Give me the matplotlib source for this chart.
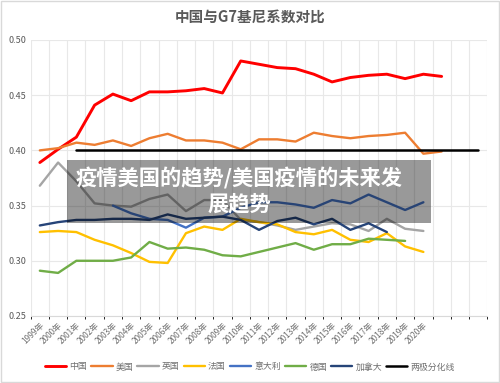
import numpy as np
import matplotlib
matplotlib.use("Agg")
import matplotlib.pyplot as plt
from matplotlib.patches import Rectangle

plt.rcParams['font.family'] = ['Noto Sans CJK SC', 'DejaVu Sans']

nan = np.nan
years = [f"{y}年" for y in range(1999, 2021)]
n_cats = 25  # axis keeps 3 empty categories after 2020

china = [0.389, 0.401, 0.412, 0.441, 0.451, 0.445, 0.453, 0.453, 0.454, 0.456,
         0.452, 0.481, 0.478, 0.475, 0.474, 0.469, 0.462, 0.466, 0.468, 0.469,
         0.465, 0.469, 0.467]
usa = [0.400, 0.402, 0.407, 0.405, 0.409, 0.404, 0.411, 0.415, 0.409, 0.409,
       0.407, 0.401, 0.410, 0.410, 0.408, 0.416, 0.413, 0.411, 0.413, 0.414,
       0.416, 0.397, 0.399]
uk = [0.368, 0.389, 0.372, 0.352, 0.350, 0.349, 0.356, 0.360, 0.345, 0.355,
      0.355, 0.337, 0.335, 0.332, 0.328, 0.331, 0.334, 0.333, 0.327, 0.338,
      0.329, 0.327]
france = [0.326, 0.327, 0.326, 0.319, 0.314, 0.307, 0.299, 0.298, 0.325, 0.331,
          0.328, 0.338, 0.335, 0.333, 0.326, 0.324, 0.328, 0.319, 0.317, 0.325,
          0.313, 0.308]
italy = [nan, nan, nan, nan, 0.350, 0.343, 0.338, 0.337, 0.330, 0.339,
         0.340, 0.348, 0.353, 0.353, 0.351, 0.348, 0.355, 0.352, 0.360, 0.353,
         0.346, 0.353]
germany = [0.291, 0.289, 0.300, 0.300, 0.300, 0.303, 0.317, 0.311, 0.312, 0.310,
           0.305, 0.304, 0.308, 0.312, 0.316, 0.310, 0.315, 0.315, 0.320, 0.319,
           0.318]
canada = [0.332, 0.335, 0.337, 0.337, 0.338, 0.338, 0.337, 0.342, 0.338, 0.339,
          0.340, 0.337, 0.328, 0.336, 0.339, 0.333, 0.338, 0.328, 0.334, 0.326]
polar_line = [nan, nan] + [0.40] * 23

series = [
    ("中国", china, "#FF0000", 2.1),
    ("美国", usa, "#ED7D31", 1.7),
    ("英国", uk, "#A5A5A5", 1.7),
    ("法国", france, "#FFC000", 1.7),
    ("意大利", italy, "#4472C4", 1.7),
    ("德国", germany, "#70AD47", 1.7),
    ("加拿大", canada, "#264478", 1.7),
    ("两极分化线", polar_line, "#000000", 1.8),
]

fig = plt.figure(figsize=(5.0, 3.83), dpi=100)
ax = fig.add_axes([0.0614, 0.175, 0.9132, 0.7206])

for name, vals, color, lw in series:
    ax.plot(np.arange(len(vals)), vals, color=color, lw=lw, label=name,
            solid_capstyle="round", solid_joinstyle="round")

ax.set_xlim(-0.5, n_cats - 0.5)
ax.set_ylim(0.25, 0.50)
ax.set_yticks([0.25, 0.30, 0.35, 0.40, 0.45, 0.50])
ax.set_yticklabels([f"{v:.2f}" for v in [0.25, 0.30, 0.35, 0.40, 0.45, 0.50]],
                   fontsize=6.5, color="#595959")
ax.set_xticks(np.arange(n_cats))
ax.set_xticklabels(years + [""] * (n_cats - len(years)), rotation=45,
                   ha="right", va="top", rotation_mode="anchor",
                   fontsize=6, color="#707070")
ax.tick_params(length=0, pad=3)

# Excel-like grid: vertical lines between categories, horizontal at major ticks
ax.set_xticks(np.arange(n_cats + 1) - 0.5, minor=True)
ax.grid(True, which="minor", axis="x", color="#E8E8E8", lw=0.8)
ax.grid(True, which="major", axis="y", color="#E8E8E8", lw=0.8)
ax.set_axisbelow(True)
for side in ["top", "right", "left"]:
    ax.spines[side].set_visible(False)
ax.spines["bottom"].set_color("#D9D9D9")

fig.text(0.5, 0.957, "中国与G7基尼系数对比", ha="center", va="center",
         fontsize=10.5, color="#595959", fontweight="bold")

ax.legend(loc="center", bbox_to_anchor=(0.5, 0.042),
          bbox_transform=fig.transFigure, ncol=8, frameon=False,
          fontsize=6.4, handlelength=2.4, handletextpad=0.35,
          columnspacing=0.45, labelcolor="#707070")

# chart border
fig.patches.append(Rectangle((0.002, 0.002), 0.996, 0.996, transform=fig.transFigure,
                             fill=False, edgecolor="#D9D9D9", lw=1))

# overlay caption box
fig.patches.append(Rectangle((66.7 / 500, 1 - 222.7 / 383), (431 - 66.7) / 500,
                             62.7 / 383, transform=fig.transFigure,
                             facecolor="black", alpha=0.4, edgecolor="none",
                             zorder=5))
fig.text(239 / 500, 1 - 178 / 383, "疫情美国的趋势/美国疫情的未来发",
         ha="center", va="center", fontsize=15.3, color="white",
         fontweight="bold", zorder=6)
fig.text(239 / 500, 1 - 204 / 383, "展趋势",
         ha="center", va="center", fontsize=15.3, color="white",
         fontweight="bold", zorder=6)

fig.savefig("out.png", dpi=100)
